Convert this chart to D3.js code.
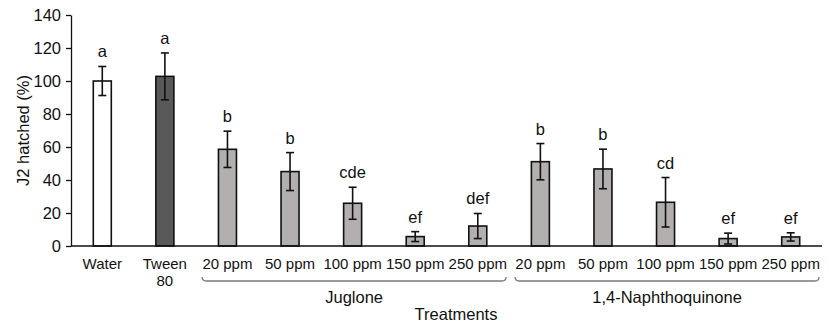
<!DOCTYPE html>
<html>
<head>
<meta charset="utf-8">
<script src="https://cdn.jsdelivr.net/npm/d3@7"></script>
<style>
  body { margin: 0; background: #fff; }
  text { font-family: Arial, "Liberation Sans", sans-serif; fill: #111; }
</style>
</head>
<body>
<div id="chart"></div>
<script>
const treatments = ["Water", "Tween 80", "J20", "J50", "J100", "J150", "J250", "N20", "N50", "N100", "N150", "N250"];
const tickLabels = [["Water"], ["Tween", "80"], ["20 ppm"], ["50 ppm"], ["100 ppm"], ["150 ppm"], ["250 ppm"],
                    ["20 ppm"], ["50 ppm"], ["100 ppm"], ["150 ppm"], ["250 ppm"]];
const means = [100, 102.8, 58.6, 45.1, 25.9, 5.7, 12.1, 51.1, 46.7, 26.5, 4.5, 5.5];
const errors = [8.8, 14.2, 11, 11.5, 9.7, 3, 7.6, 11, 12, 15, 3.3, 2.5];
const letters = ["a", "a", "b", "b", "cde", "ef", "def", "b", "b", "cd", "ef", "ef"];
const fills = ["#ffffff", "#595959", "#b3afaf", "#b3afaf", "#b3afaf", "#b3afaf", "#b3afaf",
               "#b3afaf", "#b3afaf", "#b3afaf", "#b3afaf", "#b3afaf"];
const groups = [
    { name: "Juglone", from: "J20", to: "J250" },
    { name: "1,4-Naphthoquinone", from: "N20", to: "N250" }
];
const yTicks = [0, 20, 40, 60, 80, 100, 120, 140];

const width = 829, height = 329;
const margin = { top: 15, right: 7, bottom: 83, left: 71 };

const svg = d3.select("#chart").append("svg")
    .attr("width", width)
    .attr("height", height);

const x = d3.scaleBand()
    .domain(treatments)
    .range([margin.left, width - margin.right])
    .padding(0);

const y = d3.scaleLinear()
    .domain([0, 140])
    .range([height - margin.bottom, margin.top]);

const barW = 18;

// y axis
const yAxis = svg.append("g")
    .attr("transform", `translate(${margin.left},0)`)
    .call(d3.axisLeft(y).tickValues(yTicks).tickSize(5).tickSizeOuter(0).tickPadding(5));
yAxis.select(".domain").attr("stroke", "#111").attr("stroke-width", 1.3);
yAxis.selectAll(".tick line").attr("stroke", "#111").attr("stroke-width", 1.3);
yAxis.selectAll(".tick text")
    .style("font-size", "16.5px")
    .style("font-family", "Arial, 'Liberation Sans', sans-serif")
    .attr("fill", "#111");

svg.append("text")
    .attr("transform", `translate(29,${(y(0) + y(140)) / 2}) rotate(-90)`)
    .attr("text-anchor", "middle")
    .style("font-size", "16.5px")
    .text("J2 hatched (%)");

// bars
svg.selectAll("rect.bar")
    .data(treatments)
    .enter().append("rect")
    .attr("class", "bar")
    .attr("x", (d, i) => x(d) + x.bandwidth() / 2 - barW / 2)
    .attr("y", (d, i) => y(means[i]))
    .attr("width", barW)
    .attr("height", (d, i) => y(0) - y(means[i]))
    .attr("fill", (d, i) => fills[i])
    .attr("stroke", "#111")
    .attr("stroke-width", 1.6);

// error bars
const capW = 8;
treatments.forEach((d, i) => {
    const cx = x(d) + x.bandwidth() / 2;
    const top = y(means[i] + errors[i]);
    const bot = y(means[i] - errors[i]);
    const g = svg.append("g").attr("stroke", "#111").attr("stroke-width", 1.6);
    g.append("line").attr("x1", cx).attr("x2", cx).attr("y1", top).attr("y2", bot);
    g.append("line").attr("x1", cx - capW / 2).attr("x2", cx + capW / 2).attr("y1", top).attr("y2", top);
    g.append("line").attr("x1", cx - capW / 2).attr("x2", cx + capW / 2).attr("y1", bot).attr("y2", bot);

    svg.append("text")
        .attr("x", cx)
        .attr("y", top - 9)
        .attr("text-anchor", "middle")
        .style("font-size", "16.5px")
        .text(letters[i]);
});

// x axis line
svg.append("line")
    .attr("x1", margin.left).attr("x2", width - margin.right)
    .attr("y1", y(0)).attr("y2", y(0))
    .attr("stroke", "#111").attr("stroke-width", 1.6);

// tick labels
treatments.forEach((d, i) => {
    const t = svg.append("text")
        .attr("x", x(d) + x.bandwidth() / 2)
        .attr("y", 269)
        .attr("text-anchor", "middle")
        .style("font-size", "15px");
    tickLabels[i].forEach((line, j) => {
        t.append("tspan")
            .attr("x", x(d) + x.bandwidth() / 2)
            .attr("dy", j === 0 ? 0 : 17)
            .text(line);
    });
});

// group brackets
groups.forEach(gr => {
    const x1 = x(gr.from) + 6;
    const x2 = x(gr.to) + x.bandwidth() - 3;
    const yb = 281, yt = 277;
    svg.append("path")
        .attr("d", `M${x1},${yt} Q${x1},${yb} ${x1 + 4},${yb} L${x2 - 4},${yb} Q${x2},${yb} ${x2},${yt}`)
        .attr("fill", "none")
        .attr("stroke", "#7a7a7a")
        .attr("stroke-width", 1.3);
    svg.append("text")
        .attr("x", (x1 + x2) / 2)
        .attr("y", 303)
        .attr("text-anchor", "middle")
        .style("font-size", "16.5px")
        .text(gr.name);
});

svg.append("text")
    .attr("x", 456)
    .attr("y", 320)
    .attr("text-anchor", "middle")
    .style("font-size", "16.5px")
    .text("Treatments");
</script>
</body>
</html>
